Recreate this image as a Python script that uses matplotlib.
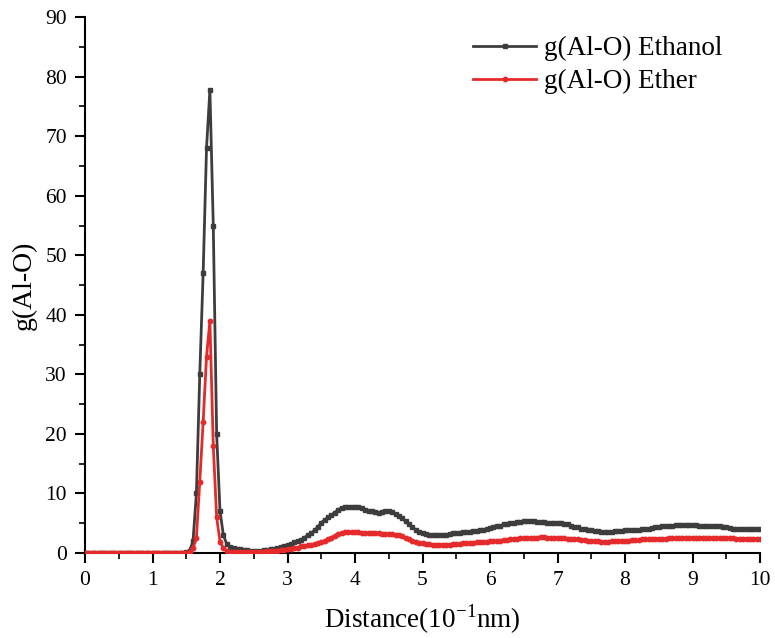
import matplotlib
matplotlib.use("Agg")
import matplotlib.pyplot as plt
import numpy as np
from matplotlib.ticker import MultipleLocator

# distance grid, 0.05 step (10^-1 nm)
distance = np.round(np.linspace(0, 10, 201), 2)

g_ethanol = [
    0, 0, 0, 0, 0, 0, 0, 0, 0, 0,
    0, 0, 0, 0, 0, 0, 0, 0, 0, 0,
    0, 0, 0, 0, 0, 0, 0, 0, 0, 0,
    0.1, 0.4, 2.0, 10, 30, 47, 68, 77.8, 55, 20,
    7, 3, 1.5, 1.0, 0.8, 0.7, 0.6, 0.5, 0.5, 0.4,
    0.4, 0.4, 0.4, 0.5, 0.5, 0.6, 0.7, 0.8, 1.0, 1.1,
    1.3, 1.5, 1.8, 2.0, 2.2, 2.6, 3.0, 3.4, 3.8, 4.4,
    5.1, 5.6, 6.0, 6.4, 6.8, 7.3, 7.6, 7.8, 7.8, 7.8,
    7.8, 7.7, 7.5, 7.3, 7.1, 7.0, 6.9, 6.8, 6.9, 7.1,
    7.1, 6.9, 6.6, 6.2, 5.8, 5.3, 4.8, 4.3, 3.9, 3.6,
    3.4, 3.2, 3.1, 3.0, 3.0, 3.0, 3.1, 3.1, 3.2, 3.3,
    3.4, 3.4, 3.5, 3.6, 3.6, 3.7, 3.7, 3.8, 3.9, 4.0,
    4.2, 4.3, 4.5, 4.6, 4.8, 4.9, 5.0, 5.1, 5.2, 5.2,
    5.3, 5.3, 5.3, 5.3, 5.2, 5.2, 5.2, 5.1, 5.1, 5.0,
    5.0, 5.0, 4.9, 4.8, 4.6, 4.4, 4.3, 4.1, 4.0, 3.9,
    3.8, 3.7, 3.7, 3.6, 3.6, 3.6, 3.6, 3.7, 3.7, 3.7,
    3.8, 3.8, 3.8, 3.9, 3.9, 4.0, 4.0, 4.1, 4.2, 4.3,
    4.4, 4.5, 4.5, 4.6, 4.6, 4.7, 4.7, 4.7, 4.7, 4.7,
    4.7, 4.7, 4.6, 4.6, 4.6, 4.5, 4.5, 4.5, 4.5, 4.4,
    4.3, 4.2, 4.1, 4.1, 4.0, 4.0, 4.0, 4.0, 4.0, 4.1,
    4.1,
]

g_ether = [
    0, 0, 0, 0, 0, 0, 0, 0, 0, 0,
    0, 0, 0, 0, 0, 0, 0, 0, 0, 0,
    0, 0, 0, 0, 0, 0, 0, 0, 0, 0,
    0.0, 0.1, 0.8, 2.5, 12, 22, 33, 39, 18, 6,
    1.9, 0.8, 0.4, 0.2, 0.1, 0.1, 0.1, 0.1, 0.1, 0.1,
    0.1, 0.2, 0.2, 0.2, 0.3, 0.3, 0.4, 0.4, 0.5, 0.5,
    0.6, 0.7, 0.8, 0.9, 1.1, 1.2, 1.3, 1.4, 1.5, 1.6,
    1.8, 2.0, 2.3, 2.6, 2.9, 3.2, 3.4, 3.5, 3.5, 3.5,
    3.5, 3.5, 3.4, 3.4, 3.3, 3.3, 3.3, 3.3, 3.2, 3.2,
    3.2, 3.2, 3.1, 3.0, 2.8, 2.6, 2.3, 2.1, 1.9, 1.7,
    1.6, 1.5, 1.5, 1.4, 1.4, 1.4, 1.4, 1.4, 1.4, 1.5,
    1.5, 1.5, 1.6, 1.6, 1.7, 1.7, 1.8, 1.8, 1.9, 1.9,
    2.0, 2.0, 2.0, 2.1, 2.2, 2.2, 2.3, 2.4, 2.4, 2.5,
    2.5, 2.5, 2.6, 2.6, 2.6, 2.7, 2.7, 2.6, 2.6, 2.6,
    2.6, 2.5, 2.5, 2.4, 2.4, 2.3, 2.3, 2.2, 2.2, 2.1,
    2.1, 2.0, 2.0, 1.9, 1.9, 1.9, 2.0, 2.0, 2.0, 2.1,
    2.1, 2.1, 2.2, 2.2, 2.2, 2.3, 2.3, 2.3, 2.3, 2.4,
    2.4, 2.4, 2.4, 2.5, 2.5, 2.5, 2.5, 2.6, 2.6, 2.6,
    2.6, 2.6, 2.6, 2.6, 2.6, 2.6, 2.5, 2.5, 2.5, 2.5,
    2.5, 2.5, 2.5, 2.4, 2.4, 2.4, 2.4, 2.4, 2.4, 2.4,
    2.4,
]

plt.rcParams["font.family"] = ["Liberation Serif", "DejaVu Serif"]

fig = plt.figure(figsize=(7.75, 6.38), dpi=100)
ax = fig.add_axes([0.1097, 0.1332, 0.871, 0.840])

ax.plot(distance, g_ethanol, color="#3d3d3d", lw=2.0, marker="s", ms=3.2,
        label="g(Al-O) Ethanol", zorder=2)
ax.plot(distance, g_ether, color="#e52a2c", lw=2.0, marker="o", ms=3.2,
        label="g(Al-O) Ether", zorder=3)

ax.set_xlim(0, 10)
ax.set_ylim(0, 90)
ax.xaxis.set_major_locator(MultipleLocator(1))
ax.xaxis.set_minor_locator(MultipleLocator(0.5))
ax.yaxis.set_major_locator(MultipleLocator(10))
ax.yaxis.set_minor_locator(MultipleLocator(5))

for s in ("top", "right"):
    ax.spines[s].set_visible(False)
for s in ("left", "bottom"):
    ax.spines[s].set_linewidth(1.5)
ax.tick_params(which="major", direction="out", length=7, width=1.5,
               labelsize=15.5, pad=6)
ax.tick_params(which="minor", direction="out", length=4, width=1.2)

ax.set_xlabel("Distance(10$^{\\mathregular{-1}}$nm)", fontsize=19.5, labelpad=9)
ax.set_ylabel("g(Al-O)", fontsize=20, labelpad=6)

ax.legend(loc="upper right", bbox_to_anchor=(0.96, 0.985), frameon=False,
          fontsize=19.5, handlelength=2.3, handletextpad=0.3, labelspacing=0.3,
          borderaxespad=0.0)

fig.savefig("out.png", dpi=100)
